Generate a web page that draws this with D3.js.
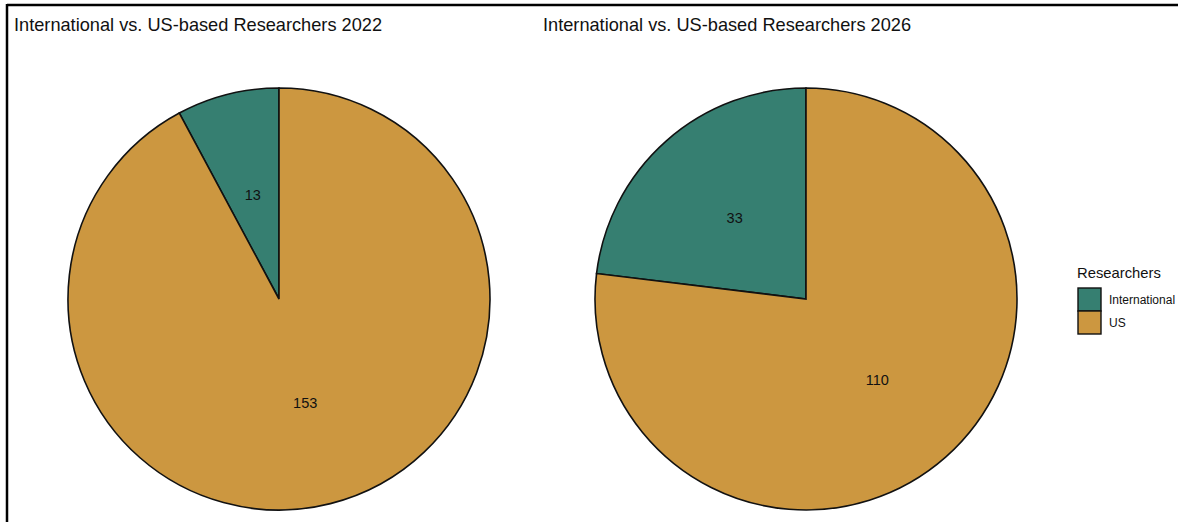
<!DOCTYPE html>
<html><head><meta charset="utf-8">
<script src="https://cdn.jsdelivr.net/npm/d3@7"></script>
<style>body{margin:0;background:#fff}svg{display:block}</style>
</head><body>
<svg id="c" width="1178" height="522"></svg>
<script>
const categories = ["International", "US"];
const years = ["2022", "2026"];
const values2022 = [13, 153];
const values2026 = [33, 110];
const colors = ["#367F71", "#CC9740"];
const titles = ["International vs. US-based Researchers 2022", "International vs. US-based Researchers 2026"];

const svg = d3.select("#c");
const font = "Liberation Sans, Arial, Helvetica, sans-serif";

// frame
svg.append("line").attr("x1", 7).attr("x2", 1178).attr("y1", 5).attr("y2", 5).attr("stroke", "#000").attr("stroke-width", 2.5);
svg.append("line").attr("x1", 7).attr("x2", 7).attr("y1", 4).attr("y2", 522).attr("stroke", "#000").attr("stroke-width", 2.5);

const color = d3.scaleOrdinal().domain(categories).range(colors);
const R = 211;
const centers = [[279, 299], [806, 299]];
const titleX = [14, 543];
const datasets = [values2022, values2026];

datasets.forEach((vals, i) => {
  const data = categories.map((c, j) => ({cat: c, value: vals[j]}));
  // ggplot-style: International from top going counter-clockwise
  const pie = d3.pie().value(d => d.value).sort(null).startAngle(0).endAngle(-2 * Math.PI);
  const arcs = pie(data);
  const arc = d3.arc().innerRadius(0).outerRadius(R);
  const g = svg.append("g").attr("transform", `translate(${centers[i][0]},${centers[i][1]})`);
  g.selectAll("path").data(arcs).join("path")
    .attr("d", arc)
    .attr("fill", d => color(d.data.cat))
    .attr("stroke", "#111").attr("stroke-width", 1.6);
  const labelArc = d3.arc().innerRadius(R * 0.51).outerRadius(R * 0.51);
  g.selectAll("text").data(arcs).join("text")
    .attr("transform", d => `translate(${labelArc.centroid(d)})`)
    .attr("text-anchor", "middle").attr("dominant-baseline", "central")
    .attr("font-family", font).attr("font-size", 14.5).attr("fill", "#111")
    .text(d => d.data.value);
  svg.append("text").attr("x", titleX[i]).attr("y", 31)
    .attr("font-family", font).attr("font-size", 18.2).attr("fill", "#111")
    .text(titles[i]);
});

// legend
const lg = svg.append("g").attr("transform", "translate(1077,278)");
lg.append("text").attr("x", 0).attr("y", 0).attr("font-family", font).attr("font-size", 14.8).attr("fill", "#111").text("Researchers");
categories.forEach((c, j) => {
  lg.append("rect").attr("x", 1).attr("y", 10 + j * 23).attr("width", 23).attr("height", 23)
    .attr("fill", color(c)).attr("stroke", "#111").attr("stroke-width", 1.4);
  lg.append("text").attr("x", 32).attr("y", 21.5 + j * 23).attr("dominant-baseline", "central")
    .attr("font-family", font).attr("font-size", 12).attr("fill", "#111").text(c);
});
</script>
</body></html>
